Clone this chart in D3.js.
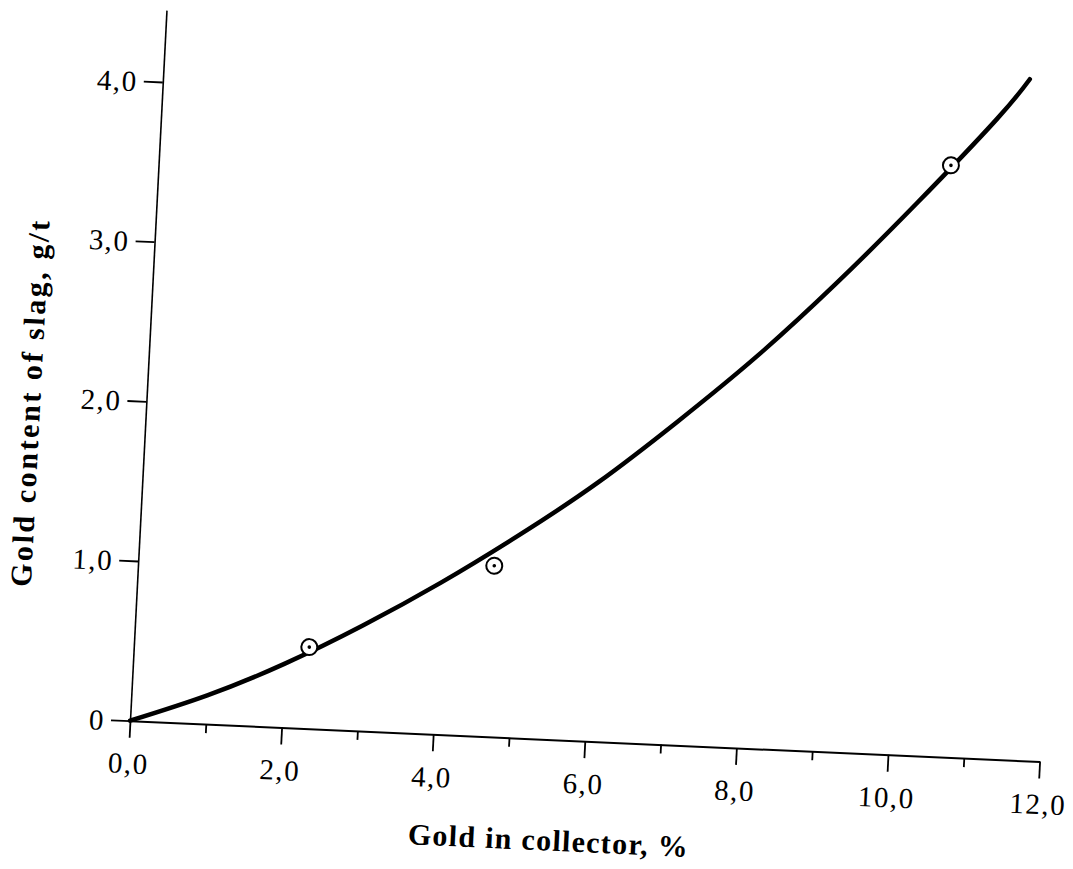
<!DOCTYPE html>
<html>
<head>
<meta charset="utf-8">
<script src="https://cdn.jsdelivr.net/npm/d3@7"></script>
<style>
  html, body { margin: 0; padding: 0; background: #fff; }
  svg { display: block; }
</style>
</head>
<body>
<svg id="chart" width="1073" height="869"></svg>
<script>
// ---- data ----
const xMajorTicks = [0, 2, 4, 6, 8, 10, 12];
const xMinorTicks = [1, 3, 5, 7, 9, 11];
const yTicks = [0, 1, 2, 3, 4];
const curveX = [0, 1, 2, 3, 4, 5, 6, 7, 8, 9, 10, 11, 11.41];
const curveY = [0, 0.18, 0.40, 0.66, 0.95, 1.27, 1.62, 2.02, 2.45, 2.93, 3.45, 4.00, 4.26];
const pointX = [2.31, 4.69, 10.43];
const pointY = [0.51, 1.07, 3.70];
const xTitle = "Gold in collector, %";
const yTitle = "Gold content of slag, g/t";

// ---- layout ----
const svg = d3.select("#chart");
const FONT = "'Liberation Serif', 'Times New Roman', serif";
// the scanned figure is slightly rotated; draw inside a tilted frame
const g = svg.append("g")
  .attr("transform", "matrix(0.999 0.0448 -0.0513 0.9987 130 720.7)");

const x = d3.scaleLinear().domain([0, 12]).range([0, 910.5]);
const y = d3.scaleLinear().domain([0, 4.45]).range([0, -711.5]);
const fmt = d => d.toFixed(1).replace(".", ",");

// x axis (major)
const gx = g.append("g")
  .call(d3.axisBottom(x).tickValues(xMajorTicks).tickSize(17).tickSizeOuter(0)
    .tickPadding(15).tickFormat(fmt));
// x axis (minor)
const gxm = g.append("g")
  .call(d3.axisBottom(x).tickValues(xMinorTicks).tickSize(9).tickSizeOuter(0).tickFormat(""));
gxm.select(".domain").remove();

// y axis
const gy = g.append("g")
  .call(d3.axisLeft(y).tickValues(yTicks).tickSize(19).tickSizeOuter(0)
    .tickPadding(6).tickFormat(d => d === 0 ? "0" : fmt(d)));

[gx, gxm, gy].forEach(a => {
  a.selectAll("path, line").attr("stroke", "#000");
  a.select(".domain").attr("stroke-width", 2);
  a.selectAll(".tick line").attr("stroke-width", 1.8);
});
gy.select(".domain").attr("stroke-width", 1.6);
[gx, gy].forEach(a => a.selectAll("text")
  .attr("font-family", FONT).attr("font-size", 29).attr("fill", "#000")
  .style("letter-spacing", "1.5px"));
gy.selectAll("text").attr("dy", "0.34em");

// curve
const pts = curveX.map((v, i) => [v, curveY[i]]);
g.append("path")
  .datum(pts)
  .attr("d", d3.line().x(d => x(d[0])).y(d => y(d[1])).curve(d3.curveNatural))
  .attr("fill", "none").attr("stroke", "#000").attr("stroke-width", 4.5)
  .attr("stroke-linecap", "round").attr("stroke-linejoin", "round");

// experimental points
const pd = pointX.map((v, i) => [v, pointY[i]]);
g.selectAll(".pt").data(pd).join("circle")
  .attr("class", "pt")
  .attr("cx", d => x(d[0])).attr("cy", d => y(d[1])).attr("r", 8)
  .attr("fill", "#fff").attr("stroke", "#000").attr("stroke-width", 2);
g.selectAll(".dot").data(pd).join("circle")
  .attr("class", "dot")
  .attr("cx", d => x(d[0])).attr("cy", d => y(d[1])).attr("r", 1.8)
  .attr("fill", "#000");

// titles
g.append("text")
  .attr("x", x(5.59)).attr("y", 111)
  .attr("text-anchor", "middle")
  .attr("font-family", FONT).attr("font-size", 30).attr("font-weight", "bold")
  .style("letter-spacing", "1.3px")
  .text(xTitle);

g.append("text")
  .attr("transform", "translate(-106," + y(1.96) + ") rotate(-90)")
  .attr("text-anchor", "middle")
  .attr("font-family", FONT).attr("font-size", 30).attr("font-weight", "bold")
  .style("letter-spacing", "2.6px")
  .text(yTitle);
</script>
</body>
</html>
